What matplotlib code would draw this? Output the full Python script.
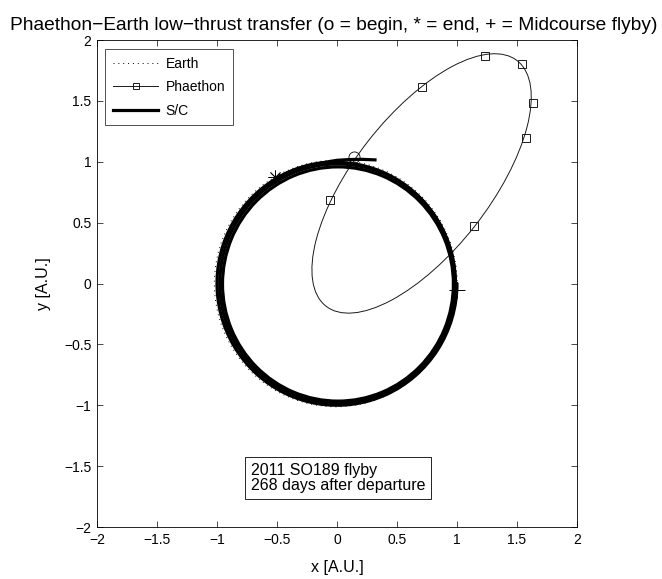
import numpy as np
import matplotlib
matplotlib.use("Agg")
import matplotlib.pyplot as plt
from matplotlib.patches import Ellipse, Arc
from matplotlib.lines import Line2D

plt.rcParams['font.family'] = ['Liberation Sans', 'DejaVu Sans']

# Earth orbit, ecliptic projection [AU]
earth_center = (-0.01, 0.0)
earth_radius = 1.012

# Phaethon orbit projected on the ecliptic [AU, deg]
phaethon_center = (0.705, 0.822)
phaethon_semi_major = 1.285
phaethon_semi_minor = 0.565
phaethon_tilt_deg = 51.5

# Sampled Phaethon positions along its orbit [AU]
phaethon_x = [-0.058, 0.711, 1.233, 1.542, 1.636, 1.572, 1.139]
phaethon_y = [0.683, 1.616, 1.868, 1.802, 1.481, 1.199, 0.469]

# Spacecraft: departure leg near 1 AU [AU]
sc_depart_x = [0.33, 0.20, 0.10, 0.00, -0.104]
sc_depart_y = [1.015, 1.020, 1.018, 1.012, 0.995]

# Spacecraft: successive revolutions, each a near-circular arc
# (centre x, centre y, radius [AU], start/end polar angle [deg])
sc_rev_cx = [0.000, 0.005, 0.008, -0.010]
sc_rev_cy = [0.000, 0.000, -0.004, 0.000]
sc_rev_r = [1.000, 0.982, 0.962, 0.995]
sc_rev_theta1 = [96.0, 0.0, 0.0, 0.0]
sc_rev_theta2 = [360.0, 360.0, 360.0, 120.6]

# Mission events [AU]
begin_xy = (0.142, 1.040)
end_xy = (-0.517, 0.875)
flyby_xy = (0.997, -0.052)

title_text = ("Phaethon\u2212Earth low\u2212thrust transfer "
              "(o = begin, * = end, + = Midcourse flyby)")
flyby_note = "2011 SO189 flyby\n268 days after departure"
ticks = [-2, -1.5, -1, -0.5, 0, 0.5, 1, 1.5, 2]
tick_labels = ["\u22122", "\u22121.5", "\u22121", "\u22120.5", "0",
               "0.5", "1", "1.5", "2"]

fig = plt.figure(figsize=(6.62, 5.79), dpi=100)
ax = fig.add_axes([0.1465, 0.0898, 0.7251, 0.8411])

# Earth orbit (dotted)
ax.add_patch(Ellipse(earth_center, 2 * earth_radius, 2 * earth_radius,
                     fill=False, edgecolor='black', linewidth=0.7,
                     linestyle=(0, (1, 4)), zorder=1))

# Phaethon orbit with sample markers
ax.add_patch(Ellipse(phaethon_center, 2 * phaethon_semi_major,
                     2 * phaethon_semi_minor, angle=phaethon_tilt_deg,
                     fill=False, edgecolor='#1a1a1a', linewidth=0.7, zorder=2))
ax.plot(phaethon_x, phaethon_y, linestyle='none', marker='s', markersize=5.5,
        markerfacecolor='none', markeredgecolor='#1a1a1a',
        markeredgewidth=0.7, zorder=3)

# Spacecraft trajectory
sc_lw = 2.3
ax.plot(sc_depart_x, sc_depart_y, color='black', linewidth=sc_lw,
        solid_capstyle='butt', solid_joinstyle='round', zorder=4)
for cx, cy, r, t1, t2 in zip(sc_rev_cx, sc_rev_cy, sc_rev_r,
                             sc_rev_theta1, sc_rev_theta2):
    ax.add_patch(Arc((cx, cy), 2 * r, 2 * r, theta1=t1, theta2=t2,
                     edgecolor='black', linewidth=sc_lw, capstyle='round',
                     zorder=4))

# Event markers
ax.plot(*begin_xy, marker='o', markersize=8, markerfacecolor='none',
        markeredgecolor='black', markeredgewidth=0.6, zorder=5)
ax.plot(*end_xy, marker=(8, 2, 0), markersize=10, color='black',
        markeredgewidth=0.6, zorder=5)
ax.plot(*flyby_xy, marker='+', markersize=11, color='black',
        markeredgewidth=0.7, zorder=5)

ax.text(-0.72, -1.597, flyby_note, fontsize=11.5, va='center', ha='left',
        linespacing=1.05, zorder=6,
        bbox=dict(boxstyle='square,pad=0.35', facecolor='white',
                  edgecolor='black', linewidth=0.6))

ax.set_xlim(-2, 2)
ax.set_ylim(-2, 2)
ax.set_xticks(ticks)
ax.set_xticklabels(tick_labels)
ax.set_yticks(ticks)
ax.set_yticklabels(tick_labels)
ax.tick_params(direction='in', length=4, width=0.5, top=True, right=True,
               labelsize=10, pad=4)
for sp in ax.spines.values():
    sp.set_linewidth(0.6)

ax.set_xlabel("x [A.U.]", fontsize=11.5, labelpad=10)
ax.set_ylabel("y [A.U.]", fontsize=11.5, labelpad=9.5)
ax.set_title(title_text, fontsize=13.8, pad=7.5, x=0.493)

handles = [
    Line2D([], [], color='black', linewidth=0.7, linestyle=(0, (1, 4))),
    Line2D([], [], color='#1a1a1a', linewidth=0.7, marker='s', markersize=5,
           markerfacecolor='none', markeredgewidth=0.7),
    Line2D([], [], color='black', linewidth=sc_lw),
]
leg = ax.legend(handles, ["Earth", "Phaethon", "S/C"], loc='upper left',
                bbox_to_anchor=(0.0167, 0.9815), borderaxespad=0,
                fontsize=10, frameon=True, fancybox=False, shadow=False,
                handlelength=3.3, handletextpad=0.5, borderpad=0.55,
                labelspacing=0.68, numpoints=1)
leg.get_frame().set_edgecolor('black')
leg.get_frame().set_linewidth(0.6)

fig.savefig("out.png", dpi=100)
